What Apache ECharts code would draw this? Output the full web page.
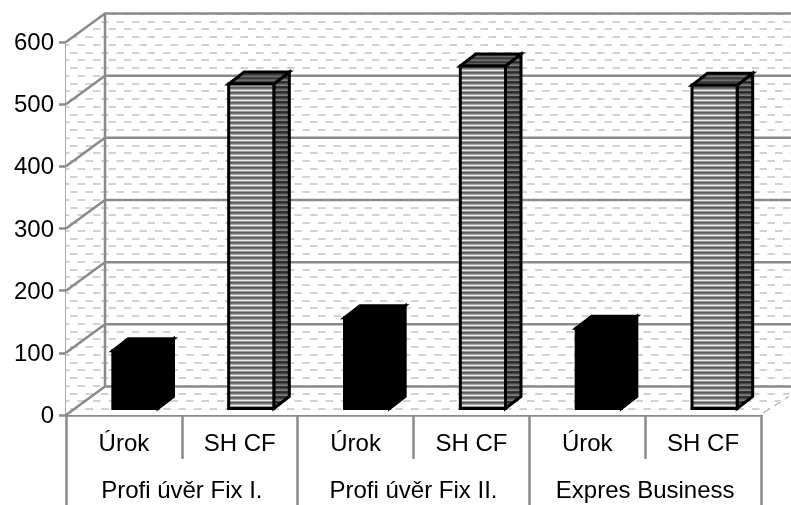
<!DOCTYPE html>
<html>
<head>
<meta charset="utf-8">
<style>
  html, body { margin: 0; padding: 0; background: #fff; }
  #chart { width: 791px; height: 505px; }
</style>
</head>
<body>
<div id="chart"></div>
<script src="https://cdn.jsdelivr.net/npm/echarts@6/dist/echarts.min.js"></script>
<script>
// data
var categories = ['Úrok', 'SH CF', 'Úrok', 'SH CF', 'Úrok', 'SH CF'];
var groups = ['Profi úvěr Fix I.', 'Profi úvěr Fix II.', 'Expres Business'];
var yTicks = [0, 100, 200, 300, 400, 500, 600];
var urokIndex = [0, 2, 4];
var urokValues = [93, 146, 129];
var shCfIndex = [1, 3, 5];
var shCfValues = [522, 551, 520];

var GRAY = '#8a8a8a';
var FONT = '"Liberation Sans", Arial, sans-serif';
// depth of the fake 3d box
var WALL_DX = 39, WALL_DY = -28.5;
var BAR_DX = 15.5, BAR_DY = -12;
var BAR_SHIFT_X = 11.5, BAR_SHIFT_Y = -6.5;
var BAR_RATIO = 0.39;

// dashed paper behind the chart
function makeDashPattern() {
  var c = document.createElement('canvas');
  c.width = 31; c.height = 31;
  var ctx = c.getContext('2d');
  ctx.fillStyle = '#fff';
  ctx.fillRect(0, 0, 31, 31);
  ctx.fillStyle = '#d2d2d2';
  for (var r = 0; r < 4; r++) {
    var y = Math.round(r * 7.75) + 5;
    var off = r % 2 ? 0 : 8;
    for (var k = -1; k < 3; k++) {
      ctx.fillRect(off + k * 15.5, y, 7.5, 2);
    }
  }
  return { image: c, repeat: 'repeat' };
}

// horizontal stripes for the SH CF boxes
function makeStripePattern(colors) {
  var c = document.createElement('canvas');
  c.width = 4; c.height = colors.length;
  var ctx = c.getContext('2d');
  colors.forEach(function (col, i) {
    ctx.fillStyle = col;
    ctx.fillRect(0, i, 4, 1);
  });
  return { image: c, repeat: 'repeat' };
}

var dashFill = makeDashPattern();
var frontFill = makeStripePattern(['#ececec', '#989898', '#5c5c5c', '#727272', '#a6a6a6']);
var sideFill = makeStripePattern(['#808080', '#343434', '#282828', '#484848', '#686868']);
var topFill = makeStripePattern(['#6e6e6e', '#444444', '#3a3a3a', '#5a5a5a']);

// walls and floor
function renderWalls(params, api) {
  var rect = params.coordSys;
  var x0 = rect.x, x1 = rect.x + rect.width;
  var yB = api.coord([0, 0])[1], yT = api.coord([0, 600])[1];
  return {
    type: 'polygon',
    shape: {
      points: [
        [x0, yB], [x0, yT], [x0 + WALL_DX, yT + WALL_DY],
        [x1 + WALL_DX, yT + WALL_DY], [x1 + WALL_DX, yB + WALL_DY], [x1, yB]
      ]
    },
    style: { fill: dashFill, stroke: null }
  };
}

// one gridline per tick: left wall diagonal + back wall horizontal
function renderGrid(params, api) {
  var rect = params.coordSys;
  var x0 = rect.x, x1 = rect.x + rect.width;
  var y = api.coord([0, api.value(0)])[1];
  return {
    type: 'polyline',
    shape: {
      points: [[x0, y], [x0 + WALL_DX, y + WALL_DY], [x1 + WALL_DX, y + WALL_DY]]
    },
    style: { fill: null, stroke: GRAY, lineWidth: 2.5 }
  };
}

function renderBackEdge(params, api) {
  var rect = params.coordSys;
  var yB = api.coord([0, 0])[1], yT = api.coord([0, 600])[1];
  var x = rect.x + WALL_DX;
  var x1 = rect.x + rect.width;
  return {
    type: 'group',
    children: [
      {
        type: 'line',
        shape: { x1: x, y1: yT + WALL_DY, x2: x, y2: yB + WALL_DY },
        style: { stroke: GRAY, lineWidth: 2.5 }
      },
      {
        type: 'line',
        shape: { x1: x1 + 2, y1: yB - 2, x2: x1 + WALL_DX - 11, y2: yB + WALL_DY + 10 },
        style: { stroke: '#9a9a9a', lineWidth: 1, lineDash: [8, 5] }
      }
    ]
  };
}

function boxShape(api) {
  var p = api.coord([api.value(0), api.value(1)]);
  var base = api.coord([api.value(0), 0]);
  var w = api.size([1, 0])[0] * BAR_RATIO;
  var l = p[0] - w / 2 + BAR_SHIFT_X, r = l + w;
  var t = p[1] + BAR_SHIFT_Y, b = base[1] + BAR_SHIFT_Y;
  return { l: l, r: r, t: t, b: b };
}

function renderBox(front, side, top) {
  return function (params, api) {
    var s = boxShape(api);
    var line = { stroke: '#000', lineWidth: 3, lineJoin: 'miter' };
    return {
      type: 'group',
      children: [
        {
          type: 'polygon',
          shape: { points: [[s.r, s.t], [s.r + BAR_DX, s.t + BAR_DY], [s.r + BAR_DX, s.b + BAR_DY], [s.r, s.b]] },
          style: Object.assign({ fill: side }, line)
        },
        {
          type: 'polygon',
          shape: { points: [[s.l, s.t], [s.l + BAR_DX, s.t + BAR_DY], [s.r + BAR_DX, s.t + BAR_DY], [s.r, s.t]] },
          style: Object.assign({ fill: top }, line)
        },
        {
          type: 'polygon',
          shape: { points: [[s.l, s.t], [s.r, s.t], [s.r, s.b], [s.l, s.b]] },
          style: Object.assign({ fill: front }, line)
        }
      ]
    };
  };
}

var urokData = urokValues.map(function (v, i) { return [urokIndex[i], v]; });
var shCfData = shCfValues.map(function (v, i) { return [shCfIndex[i], v]; });
var gridData = yTicks.map(function (v) { return [v]; });

var chart = echarts.init(document.getElementById('chart'));
chart.setOption({
  animation: false,
  backgroundColor: '#fff',
  grid: { left: 66, top: 42, width: 695, height: 373 },
  xAxis: [
    {
      type: 'category',
      data: categories,
      position: 'bottom',
      axisLine: { show: true, onZero: false, lineStyle: { color: GRAY, width: 2.5 } },
      axisTick: { show: true, length: 44, lineStyle: { color: GRAY, width: 2.5 } },
      axisLabel: { color: '#000', fontFamily: FONT, fontSize: 24, margin: 17, interval: 0 }
    },
    {
      type: 'category',
      data: groups,
      position: 'bottom',
      axisLine: { show: false },
      axisTick: { show: true, length: 90, lineStyle: { color: GRAY, width: 2.5 } },
      axisLabel: { color: '#000', fontFamily: FONT, fontSize: 24, margin: 64, interval: 0 }
    }
  ],
  yAxis: {
    type: 'value',
    min: 0,
    max: 600,
    interval: 100,
    axisLine: { show: true, lineStyle: { color: GRAY, width: 2.5 } },
    axisTick: { show: true, length: 7, lineStyle: { color: GRAY, width: 2.5 } },
    axisLabel: {
      margin: 12,
      formatter: '{v|{value}}',
      rich: { v: { color: '#000', fontFamily: FONT, fontSize: 24, padding: [3, 0, 0, 0] } }
    },
    splitLine: { show: false }
  },
  series: [
    { type: 'custom', renderItem: renderWalls, data: [[0]], z: 1, silent: true },
    { type: 'custom', renderItem: renderGrid, data: gridData, z: 2, silent: true },
    { type: 'custom', renderItem: renderBackEdge, data: [[0]], z: 2, silent: true },
    { type: 'custom', name: 'Úrok', renderItem: renderBox('#000', '#000', '#000'), data: urokData, encode: { x: 0, y: 1 }, z: 3 },
    { type: 'custom', name: 'SH CF', renderItem: renderBox(frontFill, sideFill, topFill), data: shCfData, encode: { x: 0, y: 1 }, z: 3 }
  ]
});
</script>
</body>
</html>
